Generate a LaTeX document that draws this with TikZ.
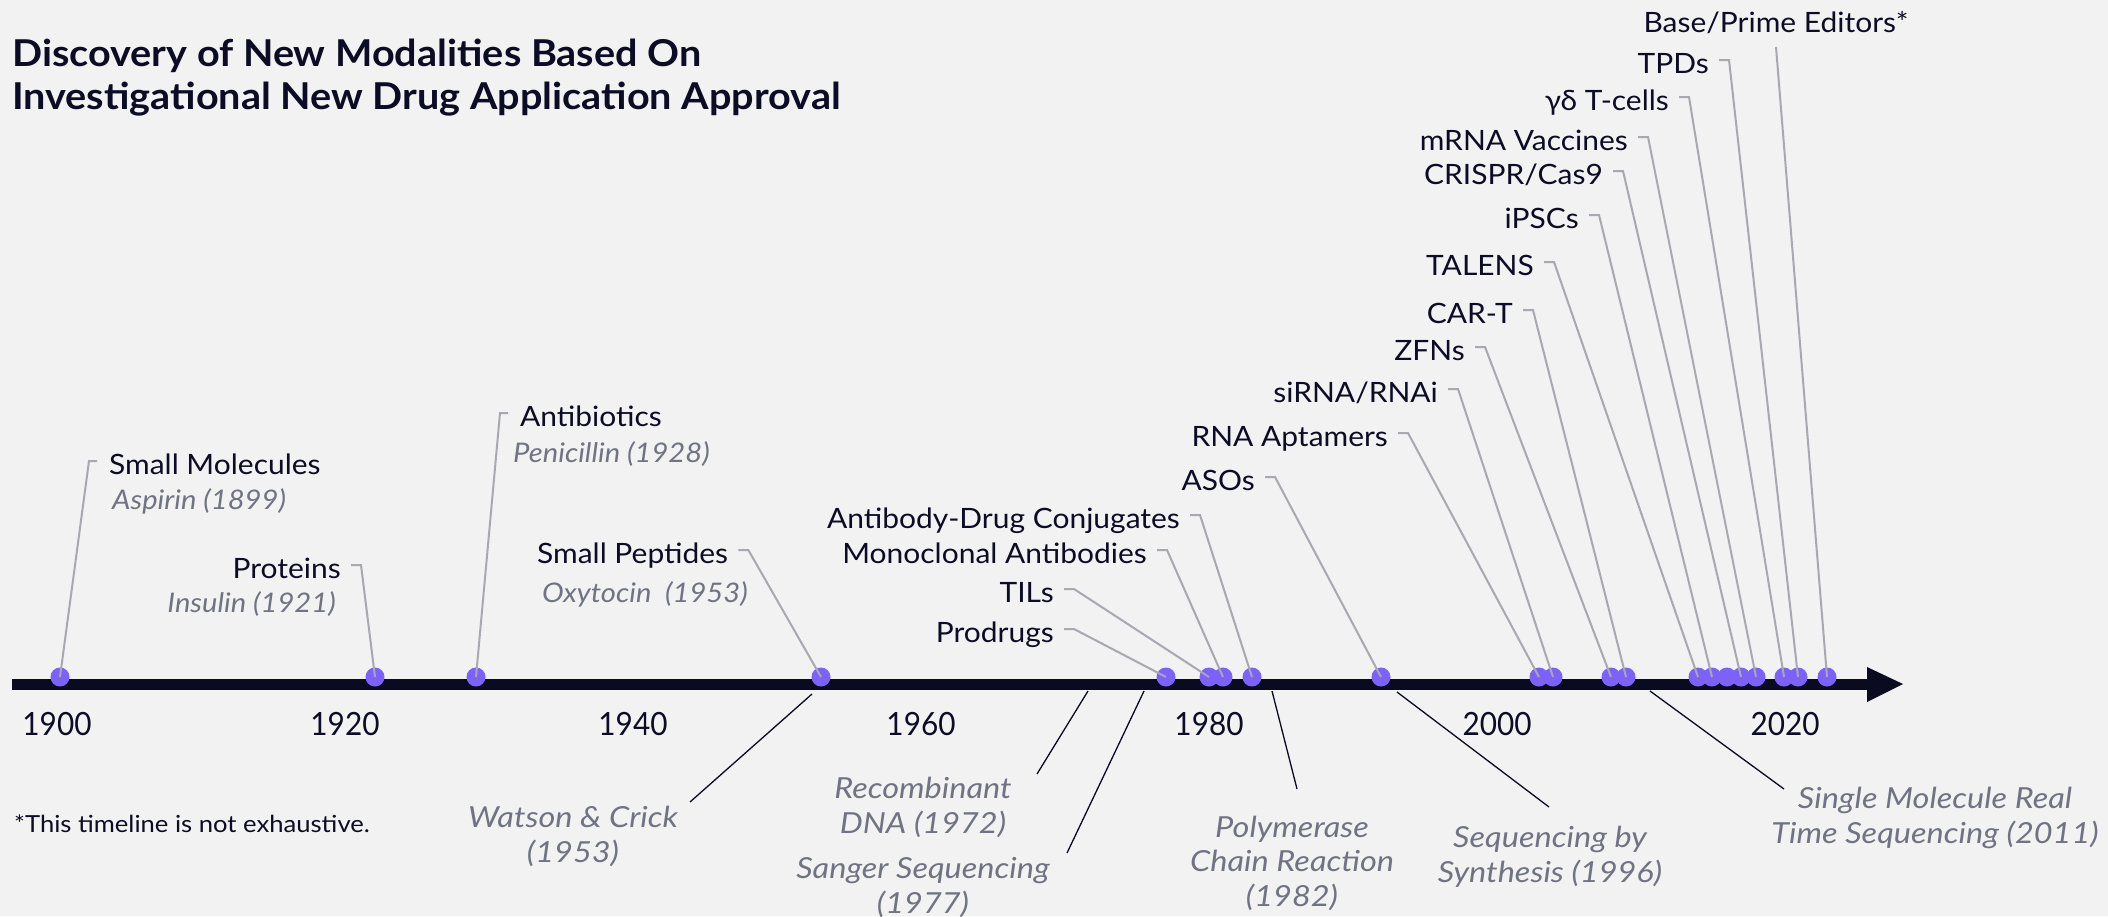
\documentclass[tikz,border=0pt]{standalone}
\usepackage{fontspec}
\setmainfont{Lato}
\newfontfamily\lblfont{Lato}[FakeStretch=1.07]
\newfontfamily\ttlfont{Lato}[FakeStretch=1.07]
\newfontfamily\yrfont{Lato}[FakeStretch=0.93]
\newfontfamily\subfont{Lato}[FakeStretch=1.08]
\newfontfamily\seqfont{Lato}[FakeStretch=1.12]
\newfontfamily\fnfont{Lato}[FakeStretch=1.09]
\definecolor{bg}{RGB}{242,242,242}
\definecolor{ink}{RGB}{12,12,36}
\definecolor{axisc}{RGB}{10,10,32}
\definecolor{dotc}{RGB}{124,98,250}
\definecolor{leadc}{RGB}{168,168,176}
\definecolor{subc}{RGB}{112,115,130}
\tikzset{
  lbl/.style={inner sep=0, font=\lblfont\fontsize{28}{32}\selectfont, text=ink},
  sublbl/.style={inner sep=0, font=\subfont\fontsize{27}{32}\selectfont\itshape, text=subc},
  yr/.style={inner sep=0, anchor=base, font=\yrfont\fontsize{32}{36}\selectfont, text=ink},
  seq/.style={inner sep=0, anchor=base, font=\seqfont\fontsize{29}{34.5}\selectfont\itshape, text=subc, align=center},
  ttl/.style={inner sep=0, anchor=base west, font=\ttlfont\fontsize{37}{43}\selectfont\bfseries, text=ink},
  dotn/.style={circle, fill=dotc, inner sep=0, minimum size=19},
  leader/.style={draw=leadc, line width=2},
  seqline/.style={draw=axisc, line width=1.3},
}
\begin{document}
\begin{tikzpicture}[x=1pt,y=-1pt]
\useasboundingbox (0,0) rectangle (2108,916);
\fill[bg] (0,0) rectangle (2108,916);

% title
\node[ttl] (t1) at (12,66) {Discovery of New Modalities Based On};
\node[ttl] (t2) at (12,109) {Investigational New Drug Application Approval};

% axis
\fill[axisc] (12,678.5) rectangle (1868,689.5);
\fill[axisc] (1867,667) -- (1903,684) -- (1867,702) -- cycle;

% years
\node[yr] (y1900) at (57,735) {1900};
\node[yr] (y1920) at (345,735) {1920};
\node[yr] (y1940) at (633,735) {1940};
\node[yr] (y1960) at (921,735) {1960};
\node[yr] (y1980) at (1209,735) {1980};
\node[yr] (y2000) at (1497,735) {2000};
\node[yr] (y2020) at (1785,735) {2020};

% dots
\foreach \n/\x in {d1/60,d2/375,d3/476,d4/821,d5/1166,d6/1209,d7/1223,d8/1252,d9/1381,d10/1539,d11/1553,d12/1611,d13/1626,d14/1698,d15/1712,d16/1727,d17/1741,d18/1756,d19/1784,d20/1798,d21/1827}
  \node[dotn] (\n) at (\x,677) {};

% top labels
\node[lbl, anchor=base west] (sm) at (109,474) {Small Molecules};
\node[sublbl, anchor=base west] (sms) at (112,509) {Aspirin (1899)};
\node[lbl, anchor=base east] (pr) at (341,578) {Proteins};
\node[sublbl, anchor=base east] (prs) at (336,612) {Insulin (1921)};
\node[lbl, anchor=base west] (ab) at (520,426) {Antibiotics};
\node[sublbl, anchor=base west] (abs) at (513,462) {Penicillin (1928)};
\node[lbl, anchor=base west] (sp) at (537,563) {Small Peptides};
\node[sublbl, anchor=base west] (sps) at (542,602) {Oxytocin\ \ (1953)};
\node[lbl, anchor=base east] (prod) at (1054,642) {Prodrugs};
\node[lbl, anchor=base east] (til) at (1054,602) {TILs};
\node[lbl, anchor=base east] (mab) at (1147,563) {Monoclonal Antibodies};
\node[lbl, anchor=base east] (adc) at (1180,528) {Antibody-Drug Conjugates};
\node[lbl, anchor=base east] (aso) at (1255,490) {ASOs};
\node[lbl, anchor=base east] (rna) at (1388,446) {RNA Aptamers};
\node[lbl, anchor=base east] (si) at (1438,402) {siRNA/RNAi};
\node[lbl, anchor=base east] (zfn) at (1465,360) {ZFNs};
\node[lbl, anchor=base east] (car) at (1513,323) {CAR-T};
\node[lbl, anchor=base east] (tal) at (1534,275) {TALENS};
\node[lbl, anchor=base east] (ips) at (1579,228) {iPSCs};
\node[lbl, anchor=base east] (cri) at (1603,184) {CRISPR/Cas9};
\node[lbl, anchor=base east] (mrna) at (1628,150) {mRNA Vaccines};
\node[lbl, anchor=base east] (gd) at (1669,110) {γδ T-cells};
\node[lbl, anchor=base east] (tpd) at (1709,73) {TPDs};
\node[lbl, anchor=base] (bpe) at (1776,32) {Base/Prime Editors*};

% leaders
\draw[leader] ([shift={(-12,-13)}]sm.base west) -- ++(-8,0) -- (d1.center);
\draw[leader] ([shift={(-12,-13)}]ab.base west) -- ++(-8,0) -- (d3.center);
\foreach \l/\d in {pr/d2,sp/d4,prod/d5,til/d6,mab/d7,adc/d8,aso/d9,rna/d10,si/d11,zfn/d12,car/d13,tal/d14,ips/d15,cri/d17,mrna/d18,gd/d19,tpd/d20}
  \draw[leader] ([shift={(10,-13)}]\l.base east) -- ++(10,0) -- (\d.center);
\draw[leader] ([shift={(0,15)}]bpe.base) -- (d21.center);

% sequencing milestones (anchor = baseline of last line)
\node[seq] (ws) at (573,862) {Watson \& Crick\\(1953)};
\node[seq] (rd) at (923,833) {Recombinant\\DNA (1972)};
\node[seq] (ss) at (923,913) {Sanger Sequencing\\(1977)};
\node[seq] (pcr) at (1292,906) {Polymerase\\Chain Reaction\\(1982)};
\node[seq] (sbs) at (1550,882) {Sequencing by\\Synthesis (1996)};
\node[seq] (smrt) at (1935,843) {Single Molecule Real\\Time Sequencing (2011)};

\coordinate (wsa) at (812,694); \coordinate (wsb) at (690,802);
\coordinate (rda) at (1088,691); \coordinate (rdb) at (1037,774);
\coordinate (ssa) at (1144,691); \coordinate (ssb) at (1067,853);
\coordinate (pca) at (1272,691); \coordinate (pcb) at (1297,789);
\coordinate (sba) at (1397,692); \coordinate (sbb) at (1549,807);
\coordinate (sma) at (1650,691); \coordinate (smb) at (1784,789);
\draw[seqline] (wsa) -- (wsb);
\draw[seqline] (rda) -- (rdb);
\draw[seqline] (ssa) -- (ssb);
\draw[seqline] (pca) -- (pcb);
\draw[seqline] (sba) -- (sbb);
\draw[seqline] (sma) -- (smb);

% footnote
\node[inner sep=0, anchor=base west, font=\fnfont\fontsize{23.5}{28}\selectfont, text=ink] (fn) at (14,832) {*This timeline is not exhaustive.};
\end{tikzpicture}
\end{document}
